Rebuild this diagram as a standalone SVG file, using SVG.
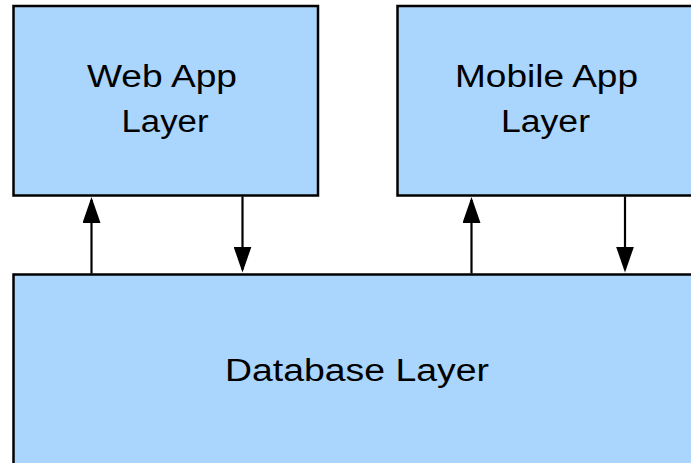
<svg xmlns="http://www.w3.org/2000/svg" width="691" height="463" viewBox="0 0 691 463">
  <style>
    .box { fill: #aad5fd; stroke: #000000; stroke-width: 2.5; }
    .lbl { font-family: "Liberation Sans", Arial, Helvetica, sans-serif; font-size: 31px; fill: #000000; text-anchor: middle; }
    .conn { stroke: #000000; stroke-width: 2.2; fill: none; }
  </style>
  <defs>
    <marker id="ah" markerUnits="userSpaceOnUse" markerWidth="26" markerHeight="18" refX="23" refY="9" orient="auto">
      <path d="M0,0 L26,9 L0,18 Z" fill="#000000"/>
    </marker>
  </defs>
  <rect width="691" height="463" fill="#ffffff"/>
  <g id="web-app-layer">
    <rect class="box" x="13.5" y="6" width="304.5" height="189.5"/>
    <text class="lbl" x="162" y="87" textLength="150" lengthAdjust="spacingAndGlyphs">Web App</text>
    <text class="lbl" x="165" y="132" textLength="87" lengthAdjust="spacingAndGlyphs">Layer</text>
  </g>
  <g id="mobile-app-layer">
    <rect class="box" x="397.5" y="6" width="300" height="189.5"/>
    <text class="lbl" x="546.5" y="87" textLength="183" lengthAdjust="spacingAndGlyphs">Mobile App</text>
    <text class="lbl" x="545.5" y="132" textLength="89" lengthAdjust="spacingAndGlyphs">Layer</text>
  </g>
  <g id="database-layer">
    <rect class="box" x="13.5" y="274.5" width="690" height="200"/>
    <text class="lbl" x="357" y="381" textLength="264" lengthAdjust="spacingAndGlyphs">Database Layer</text>
  </g>
  <g id="connectors">
    <line class="conn" x1="91.5" y1="273.5" x2="91.5" y2="200" marker-end="url(#ah)"/>
    <line class="conn" x1="242.5" y1="196.5" x2="242.5" y2="269.5" marker-end="url(#ah)"/>
    <line class="conn" x1="471.5" y1="273.5" x2="471.5" y2="200" marker-end="url(#ah)"/>
    <line class="conn" x1="625" y1="196.5" x2="625" y2="269.5" marker-end="url(#ah)"/>
  </g>
</svg>
